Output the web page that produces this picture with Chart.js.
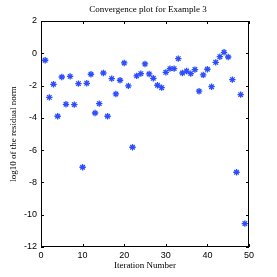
<!DOCTYPE html>
<html lang="en">
  <head>
    <meta charset="UTF-8" />
    <title>Convergence plot</title>
    <script src="https://cdn.jsdelivr.net/npm/chart.js@4/dist/chart.umd.min.js"></script>
    <style>
      body { margin: 0; background: #fff; }
    </style>
  </head>
  <body>
    <canvas id="myChart" width="277" height="277"></canvas>
    <script>
      // Datos
      var iteraciones = [1, 2, 3, 4, 5, 6, 7, 8, 9, 10, 11, 12, 13, 14, 15, 16, 17, 18, 19, 20, 21, 22, 23, 24, 25,
        26, 27, 28, 29, 30, 31, 32, 33, 34, 35, 36, 37, 38, 39, 40, 41, 42, 43, 44, 45, 46, 47, 48, 49];
      var residuo = [-0.43, -2.73, -1.92, -3.9, -1.47, -3.16, -1.43, -3.18, -1.88, -7.06,
        -1.86, -1.3, -3.7, -3.12, -1.22, -3.9, -1.57, -2.52, -1.67, -0.6,
        -2.02, -5.82, -1.4, -1.26, -0.66, -1.28, -1.55, -1.98, -2.13, -1.18,
        -0.95, -0.95, -0.33, -1.22, -1.1, -1.26, -1.01, -2.35, -1.34, -0.99,
        -2.07, -0.56, -0.21, 0.06, -0.23, -1.63, -7.37, -2.56, -10.55];
      var ticksX = [0, 10, 20, 30, 40, 50];
      var ticksY = [2, 0, -2, -4, -6, -8, -10, -12];

      var puntos = [];
      for (i = 0; i < iteraciones.length; i++) {
        puntos.push({ x: iteraciones[i], y: residuo[i] });
      }

      // Plugin para el marco, las marcas hacia adentro y el titulo
      var marco = {
        id: "marco",
        afterDraw: function (chart) {
          var ctx = chart.ctx;
          var a = chart.chartArea;
          var sx = chart.scales.x;
          var sy = chart.scales.y;
          ctx.save();
          ctx.strokeStyle = "#000";
          ctx.lineWidth = 1;
          ctx.strokeRect(Math.round(a.left) + 0.5, Math.round(a.top) + 0.5,
            Math.round(a.right - a.left) - 1, Math.round(a.bottom - a.top) - 1);
          ctx.beginPath();
          ticksX.forEach(function (v) {
            var px = Math.round(sx.getPixelForValue(v)) + 0.5;
            ctx.moveTo(px, a.bottom); ctx.lineTo(px, a.bottom - 3);
            ctx.moveTo(px, a.top); ctx.lineTo(px, a.top + 3);
          });
          ticksY.forEach(function (v) {
            var py = Math.round(sy.getPixelForValue(v)) + 0.5;
            ctx.moveTo(a.left, py); ctx.lineTo(a.left + 3, py);
            ctx.moveTo(a.right, py); ctx.lineTo(a.right - 3, py);
          });
          ctx.stroke();
          ctx.fillStyle = "#000";
          ctx.font = "9px 'Liberation Serif'";
          ctx.textAlign = "center";
          ctx.textBaseline = "middle";
          ctx.fillText("Convergence plot for Example 3", (a.left + a.right) / 2 + 3, 10);
          ctx.restore();
        },
      };

      var grafica = new Chart(document.getElementById("myChart"), {
        type: "scatter",
        data: {
          datasets: [
            {
              label: "residuo",
              data: puntos,
              pointStyle: "star",
              pointRadius: 3.2,
              borderColor: "#2b4dff",
              backgroundColor: "#2b4dff",
              borderWidth: 1.3,
            },
          ],
        },
        options: {
          responsive: false,
          animation: false,
          layout: { padding: { top: 21, right: 28, left: 0, bottom: 0 } },
          plugins: {
            legend: { display: false },
            tooltip: { enabled: false },
          },
          scales: {
            x: {
              type: "linear",
              min: 0,
              max: 50,
              afterFit: function (s) { s.height = 30; },
              afterBuildTicks: function (s) { s.ticks = ticksX.map(function (v) { return { value: v }; }); },
              grid: { display: false, drawTicks: false },
              border: { display: false },
              ticks: { padding: 3, color: "#000", font: { family: "'Liberation Sans'", size: 9 }, maxRotation: 0 },
              title: {
                display: true,
                text: "Iteration Number",
                color: "#000",
                font: { family: "'Liberation Serif'", size: 9 },
                padding: { top: 0, bottom: 6 },
              },
            },
            y: {
              type: "linear",
              min: -12,
              max: 2,
              afterFit: function (s) { s.width = 41; },
              afterBuildTicks: function (s) { s.ticks = ticksY.map(function (v) { return { value: v }; }); },
              grid: { display: false, drawTicks: false },
              border: { display: false },
              ticks: { padding: 4, color: "#000", font: { family: "'Liberation Sans'", size: 9 } },
              title: {
                display: true,
                text: "log10 of the residual norm",
                color: "#000",
                font: { family: "'Liberation Serif'", size: 9 },
                padding: { top: 8, bottom: 0 },
              },
            },
          },
        },
        plugins: [marco],
      });
    </script>
  </body>
</html>
